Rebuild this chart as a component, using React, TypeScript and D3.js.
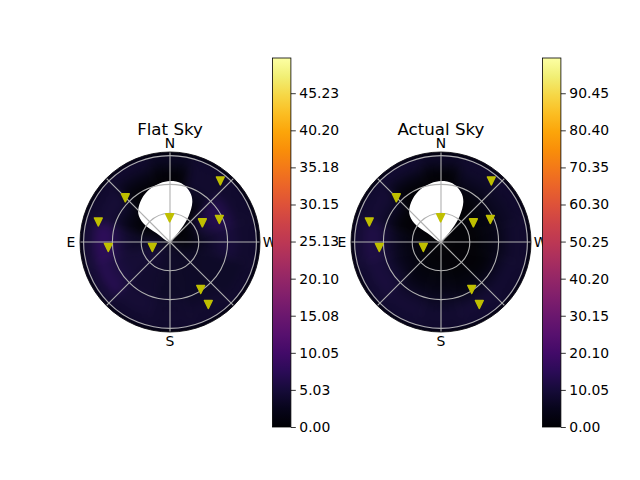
import React, { useEffect, useRef } from 'react';
import * as d3 from 'd3';

const FONT = '"DejaVu Sans", sans-serif';

// azimuth of each heat column (deg, N=0, E=90) and zenith edges of each row
const azimuths = [0, 30, 60, 90, 120, 150, 180, 210, 240, 270, 300, 330];
const zenithEdges = [0, 10, 20, 30, 40, 50, 60, 70, 80, 90];

// rows are zenith bins, columns follow azimuths
const flatSky = [
  [0, 0, 1.5, 2.5, 3, 3, 3, 3, 2, 0.5, 0, 0],
  [0, 0, 1, 3.5, 4.5, 4, 3.5, 3.5, 2.5, 0.5, 0, 0],
  [0, 0, 0.5, 3.5, 5, 4, 3.5, 3.5, 3, 1.5, 1, 0],
  [0, 0, 0.5, 3.5, 4.5, 4, 3.5, 3.5, 3.5, 3, 4.5, 0.5],
  [0, 0, 1.5, 4, 4.5, 4, 3.5, 3.5, 3.5, 4, 6, 1.5],
  [0, 0, 3, 5.5, 5, 4, 3.5, 3.5, 3.5, 5, 7, 3],
  [0.3, 0.8, 4.5, 7.5, 6, 4.5, 4, 3.5, 3.5, 5, 6, 4],
  [1, 2.5, 4.5, 7.5, 7, 4.5, 4, 4, 3.5, 4, 4, 4],
  [3, 4, 4, 4.5, 4.5, 4, 4, 4, 4, 4, 4, 4],
];
const actualSky = [
  [0, 0, 0.5, 0.5, 0.5, 0.5, 0.5, 0.5, 0, 0, 0, 0],
  [0, 0, 0.5, 1, 1, 1, 0.5, 0.5, 0.5, 0, 0, 0],
  [0, 0, 0.5, 2, 2, 1, 1, 0.5, 0.5, 0, 0, 0],
  [0, 0, 0.5, 3, 3, 2, 2, 1, 0.5, 0.5, 0.5, 0],
  [0, 0, 1, 5, 4.5, 3, 3, 2, 1, 2, 2, 0.5],
  [0, 0, 4.5, 8, 7.5, 5, 4.5, 3.5, 3, 3.5, 3.5, 2],
  [0.5, 1.5, 7.5, 11, 10, 8, 7, 7, 6.5, 5.5, 5.5, 5],
  [2, 5, 9, 12, 10.5, 9, 8.5, 9, 8.5, 8, 7, 7],
  [7, 8.5, 8.5, 9, 8.5, 8.5, 8, 8.5, 8, 8, 8, 8],
];

// masked region around the sun
const holeAz = [0, 57, 55, 48, 36.6, 24, 9.7, 0, -11, -21.7, -29, -36, -40, -43];
const holeZen = [0, 16.6, 34, 44.5, 52, 58, 62, 63.5, 62.3, 56, 48, 32.6, 18.7, 7.6];

// satellites
const satAz = [320.6, 45.2, 74.2, 94.9, 106.8, 0.8, 300.9, 294.7, 213, 211.6];
const satZen = [82.6, 65.6, 77.6, 64.5, 19.2, 25.4, 39.3, 56.6, 58.7, 76.2];

const radialTicks = [30, 60, 90];
const spokes = [0, 45, 90, 135, 180, 225, 270, 315];
const compass = [
  { label: 'N', az: 0 },
  { label: 'E', az: 90 },
  { label: 'S', az: 180 },
  { label: 'W', az: 270 },
];

const flatTicks = [0, 5.03, 10.05, 15.08, 20.1, 25.13, 30.15, 35.18, 40.2, 45.23];
const actualTicks = [0, 10.05, 20.1, 30.15, 40.2, 50.25, 60.3, 70.35, 80.4, 90.45];

const RMAX = 93.75;
const toAngle = (az: number) => (-az * Math.PI) / 180;

type Sel = d3.Selection<SVGGElement, unknown, null, undefined>;

function drawSky(
  root: Sel,
  id: string,
  cx: number,
  cy: number,
  title: string,
  values: number[][],
  vmax: number,
) {
  const radius = 90;
  const rScale = d3.scaleLinear().domain([0, RMAX]).range([0, radius]);
  const color = d3.scaleSequential(d3.interpolateInferno).domain([0, vmax]);
  const g = root.append('g').attr('transform', `translate(${cx},${cy})`);

  const defs = g.append('defs');
  defs.append('clipPath').attr('id', `clip-${id}`).append('circle').attr('r', radius);
  const filter = defs
    .append('filter')
    .attr('id', `blur-${id}`)
    .attr('filterUnits', 'userSpaceOnUse')
    .attr('x', -130)
    .attr('y', -130)
    .attr('width', 260)
    .attr('height', 260)
    .attr('color-interpolation-filters', 'sRGB');
  filter.append('feGaussianBlur').attr('stdDeviation', 5);

  // Heat cells
  const arc = d3.arc();
  const step = (2 * Math.PI) / azimuths.length;
  const heat = g
    .append('g')
    .attr('clip-path', `url(#clip-${id})`)
    .append('g')
    .attr('filter', `url(#blur-${id})`);
  values.forEach((row, i) => {
    row.forEach((v, j) => {
      const a = toAngle(azimuths[j]);
      heat
        .append('path')
        .attr('fill', color(v))
        .attr('stroke', color(v))
        .attr('stroke-width', 0.5)
        .attr(
          'd',
          arc({
            innerRadius: rScale(zenithEdges[i]),
            outerRadius: i === values.length - 1 ? rScale(RMAX) + 25 : rScale(zenithEdges[i + 1]),
            startAngle: a - step / 2,
            endAngle: a + step / 2,
          }) as string,
        );
    });
  });

  // Dark rim past the last zenith bin
  g.append('circle')
    .attr('r', rScale(92))
    .attr('fill', 'none')
    .attr('stroke', color(vmax * 0.02))
    .attr('stroke-width', 2)
    .attr('opacity', 0.7);

  // Masked area
  const hole = d3
    .lineRadial<number>()
    .angle((d) => toAngle(d))
    .radius((_, i) => rScale(holeZen[i]))
    .curve(d3.curveCatmullRomClosed.alpha(0.5));
  g.append('path').attr('d', hole(holeAz)).attr('fill', 'white');

  // Grid
  radialTicks.forEach((t) => {
    g.append('circle')
      .attr('r', rScale(t))
      .attr('fill', 'none')
      .attr('stroke', '#b0b0b0')
      .attr('stroke-width', 1.1);
  });
  spokes.forEach((az) => {
    const [x, y] = d3.pointRadial(toAngle(az), radius);
    g.append('line')
      .attr('x1', 0)
      .attr('y1', 0)
      .attr('x2', x)
      .attr('y2', y)
      .attr('stroke', '#b0b0b0')
      .attr('stroke-width', 1.1);
  });

  // Satellites
  satAz.forEach((az, i) => {
    const [x, y] = d3.pointRadial(toAngle(az), rScale(satZen[i]));
    g.append('path')
      .attr('transform', `translate(${x},${y})`)
      .attr('d', 'M-3.9,-3.8L3.9,-3.8L0,4.2Z')
      .attr('fill', '#bfbf00')
      .attr('stroke', '#bfbf00')
      .attr('stroke-width', 1.5)
      .attr('stroke-linejoin', 'round');
  });

  // Spine
  g.append('circle').attr('r', radius).attr('fill', 'none').attr('stroke', 'black').attr('stroke-width', 0.8);

  // Compass labels
  compass.forEach((c) => {
    const [x, y] = d3.pointRadial(toAngle(c.az), radius + 9);
    g.append('text')
      .attr('x', x + (c.label === 'W' ? 0.5 : 0))
      .attr('y', y)
      .attr('dy', '0.36em')
      .attr('text-anchor', 'middle')
      .attr('font-family', FONT)
      .attr('font-size', 13.9)
      .attr('fill', 'black')
      .text(c.label);
  });

  g.append('text')
    .attr('y', -107)
    .attr('text-anchor', 'middle')
    .attr('font-family', FONT)
    .attr('font-size', 16.67)
    .attr('fill', 'black')
    .text(title);
}

function drawColorbar(root: Sel, id: string, x: number, vmax: number, ticks: number[]) {
  const barWidth = 18.5;
  const y = d3.scaleLinear().domain([0, vmax]).range([427, 58]);
  const g = root.append('g');

  const grad = g
    .append('defs')
    .append('linearGradient')
    .attr('id', `grad-${id}`)
    .attr('x1', 0)
    .attr('x2', 0)
    .attr('y1', 1)
    .attr('y2', 0);
  d3.range(0, 1.001, 0.05).forEach((t) => {
    grad
      .append('stop')
      .attr('offset', t)
      .attr('stop-color', d3.interpolateInferno(t));
  });

  g.append('rect')
    .attr('x', x)
    .attr('y', 58)
    .attr('width', barWidth)
    .attr('height', 369)
    .attr('fill', `url(#grad-${id})`)
    .attr('stroke', 'black')
    .attr('stroke-width', 0.8);

  const axis = g
    .append('g')
    .attr('transform', `translate(${x + barWidth},0)`)
    .call(
      d3
        .axisRight(y)
        .tickValues(ticks)
        .tickSize(4.9)
        .tickPadding(3.5)
        .tickFormat((d) => (d as number).toFixed(2)),
    );
  axis.select('.domain').remove();
  axis.selectAll('line').attr('stroke', 'black').attr('stroke-width', 0.8);
  axis
    .selectAll('text')
    .attr('font-family', FONT)
    .attr('font-size', 13.9)
    .attr('fill', 'black');
}

export default function App() {
  const svgRef = useRef<SVGSVGElement>(null);

  useEffect(() => {
    if (!svgRef.current) return;
    const svg = d3.select(svgRef.current);
    svg.selectAll('*').remove();
    const root = svg.append('g') as unknown as Sel;

    drawSky(root, 'flat', 170, 242, 'Flat Sky', flatSky, 50);
    drawColorbar(root, 'flat', 272.4, 50, flatTicks);
    drawSky(root, 'actual', 441, 242, 'Actual Sky', actualSky, 100);
    drawColorbar(root, 'actual', 542.4, 100, actualTicks);
  }, []);

  return (
    <svg
      ref={svgRef}
      width={640}
      height={480}
      style={{ position: 'absolute', left: 0, top: 0, background: 'white' }}
    />
  );
}
